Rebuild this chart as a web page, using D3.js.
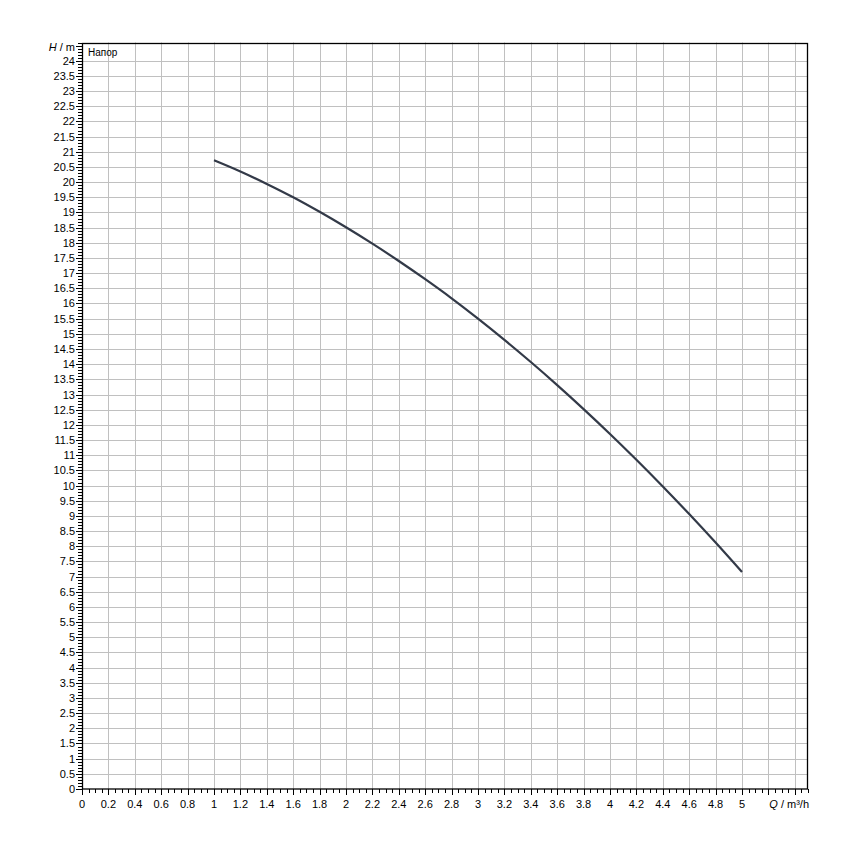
<!DOCTYPE html>
<html><head><meta charset="utf-8">
<script src="https://cdn.jsdelivr.net/npm/d3@7"></script>
<style>body{margin:0;background:#fff;} text{font-family:"Liberation Sans",Arial,sans-serif;}</style>
</head><body>
<svg id="c" width="850" height="850"></svg>
<script>
const flowQ = [1.0,1.2,1.4,1.6,1.8,2.0,2.2,2.4,2.6,2.8,3.0,3.2,3.4,3.6,3.8,4.0,4.2,4.4,4.6,4.8,5.0];
const headH = [20.72,20.35,19.94,19.50,19.02,18.51,17.97,17.40,16.80,16.17,15.50,14.80,14.07,13.31,12.52,11.70,10.85,9.97,9.06,8.12,7.15];
const xTickLabels = d3.range(0, 26).map(i => +(i*0.2).toFixed(1));
const yTickLabels = d3.range(0, 49).map(i => i*0.5);
const xTitle = "Q / m³/h";
const yTitle = "H / m";
const seriesName = "Напор";

const L=82, R=808, T=42.5, B=789;
const svg = d3.select("#c");
const x = d3.scaleLinear().domain([0,5.5]).range([L,R]);
const y = d3.scaleLinear().domain([0,24.6]).range([B,T]);

const g = svg.append("g");
// grid
g.selectAll(".vg").data(d3.range(1,28).map(i=>+(i*0.2).toFixed(1))).enter().append("line")
 .attr("x1",d=>Math.round(x(d))+0.5).attr("x2",d=>Math.round(x(d))+0.5).attr("y1",T).attr("y2",B)
 .attr("stroke","#c0c0c0").attr("stroke-width",1);
g.selectAll(".hg").data(yTickLabels.filter(d=>d>0)).enter().append("line")
 .attr("y1",d=>Math.round(y(d))+0.5).attr("y2",d=>Math.round(y(d))+0.5).attr("x1",L).attr("x2",R)
 .attr("stroke","#c0c0c0").attr("stroke-width",1);

// border
g.append("rect").attr("x",L+0.5).attr("y",Math.round(T)+0.5).attr("width",R-L-1).attr("height",B-Math.round(T)-0.5)
 .attr("fill","none").attr("stroke","#000").attr("stroke-width",1.3);

// x axis ticks
const xMinor = d3.range(0,111).map(i=>+(i*0.05).toFixed(2));
g.selectAll(".xt").data(xMinor).enter().append("line")
 .attr("x1",d=>Math.round(x(d))+0.5).attr("x2",d=>Math.round(x(d))+0.5)
 .attr("y1",B).attr("y2",d=>(Math.abs(d*5-Math.round(d*5))<1e-6)?B+6:B+4)
 .attr("stroke","#000").attr("stroke-width",1);
g.selectAll(".xl").data(xTickLabels).enter().append("text")
 .attr("x",d=>x(d)).attr("y",B+19).attr("text-anchor","middle").attr("font-size",11).attr("fill","#000")
 .text(d=>String(d));
g.append("text").attr("x",R+1).attr("y",B+19).attr("text-anchor","end").attr("font-size",11).attr("fill","#000")
 .html('<tspan font-style="italic">Q</tspan> / m³/h');

// y axis ticks
const yMinor = d3.range(0,247).map(i=>+(i*0.1).toFixed(1));
g.selectAll(".yt").data(yMinor).enter().append("line")
 .attr("y1",d=>Math.round(y(d))+0.5).attr("y2",d=>Math.round(y(d))+0.5)
 .attr("x1",L).attr("x2",d=>(Math.abs(d*2-Math.round(d*2))<1e-6)?L-6:L-4)
 .attr("stroke","#000").attr("stroke-width",1);
g.selectAll(".yl").data(yTickLabels).enter().append("text")
 .attr("x",L-7).attr("y",d=>y(d)+4).attr("text-anchor","end").attr("font-size",11).attr("fill","#000")
 .text(d=>String(d));
g.append("text").attr("x",L-7).attr("y",T+8).attr("text-anchor","end").attr("font-size",11).attr("fill","#000")
 .html('<tspan font-style="italic">H</tspan> / m');

g.append("text").attr("x",L+6).attr("y",T+13).attr("font-size",10).attr("fill","#000").text(seriesName);

// curve
const data = flowQ.map((q,i)=>[q,headH[i]]);
g.append("path").datum(data)
 .attr("d", d3.line().x(d=>x(d[0])).y(d=>y(d[1])).curve(d3.curveCatmullRom))
 .attr("fill","none").attr("stroke","#333a48").attr("stroke-width",2.2);
</script>
</body></html>
